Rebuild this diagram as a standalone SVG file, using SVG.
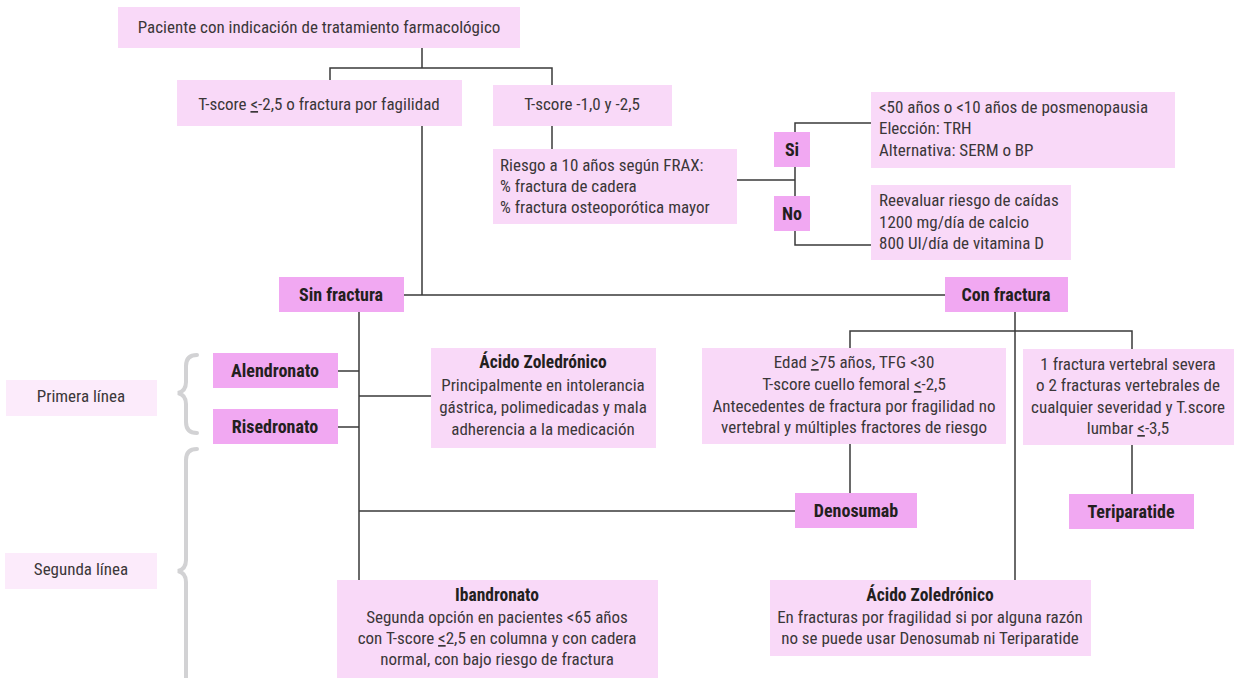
<svg xmlns="http://www.w3.org/2000/svg" width="1234" height="678" viewBox="0 0 1234 678">
<style>
.lt{fill:#f9d9f8}
.dk{fill:#f1a8f2}
.pale{fill:#fcebfb}
text{font-family:"Liberation Sans Narrow","Roboto Condensed","Liberation Sans",Arial,sans-serif;font-size:17px;fill:#3b3739}
.c{text-anchor:middle}
.b{font-weight:bold;fill:#231f20;font-size:18px}
.t{font-weight:bold;fill:#231f20;font-size:17.5px}
.ln{stroke:#3a3a3a;stroke-width:1.5;fill:none}
.br{stroke:#d2d2d4;stroke-width:4;fill:none;stroke-linecap:round}
</style>
<rect width="1234" height="678" fill="#ffffff"/>
<g id="connectors">
<path class="ln" d="M422 48V68M330 80V68H552V85"/>
<path class="ln" d="M552 126V149"/>
<path class="ln" d="M737 180H795M871 123H795V245H871"/>
<path class="ln" d="M422 126V295M404 295H945"/>
<path class="ln" d="M359 312V580M338 371H359M338 427H359M359 396H431M359 511H795"/>
<path class="ln" d="M1015 312V580M850 348V331H1132V349"/>
<path class="ln" d="M850 444V493M1132 445V494"/>
</g>
<g id="braces">
<path class="br" d="M197 355Q186 355 186 366V382Q186 391 178 393Q186 395 186 404V422Q186 433 197 433"/>
<path class="br" d="M197 449Q186 449 186 460V560Q186 569 178 571Q186 573 186 582V678"/>
</g>
<g id="n-paciente"><rect class="lt" x="118" y="7" width="402" height="41"/><text class="c" x="319" y="33">Paciente con indicación de tratamiento farmacológico</text></g>
<g id="n-tscore1"><rect class="lt" x="177" y="80" width="285" height="46"/><text class="c" x="319" y="110">T-score <tspan text-decoration="underline">&lt;</tspan>-2,5 o fractura por fagilidad</text></g>
<g id="n-tscore2"><rect class="lt" x="493" y="85" width="179" height="41"/><text class="c" x="582" y="110">T-score -1,0 y -2,5</text></g>
<g id="n-frax"><rect class="lt" x="493" y="149" width="244" height="75"/><text x="500" y="171">Riesgo a 10 años según FRAX:</text><text x="500" y="192">% fractura de cadera</text><text x="500" y="213">% fractura osteoporótica mayor</text></g>
<g id="n-si"><rect class="dk" x="774" y="132" width="36" height="35"/><text class="c b" x="792" y="156">Si</text></g>
<g id="n-no"><rect class="dk" x="774" y="196" width="36" height="35"/><text class="c b" x="792" y="220">No</text></g>
<g id="n-si-res"><rect class="lt" x="871" y="92" width="304" height="76"/><text x="879" y="113">&lt;50 años o &lt;10 años de posmenopausia</text><text x="879" y="134">Elección: TRH</text><text x="879" y="156">Alternativa: SERM o BP</text></g>
<g id="n-no-res"><rect class="lt" x="871" y="185" width="200" height="75"/><text x="879" y="206">Reevaluar riesgo de caídas</text><text x="879" y="228">1200 mg/día de calcio</text><text x="879" y="249">800 UI/día de vitamina D</text></g>
<g id="n-sin"><rect class="dk" x="279" y="277" width="125" height="35"/><text class="c b" x="341" y="301">Sin fractura</text></g>
<g id="n-con"><rect class="dk" x="945" y="277" width="123" height="35"/><text class="c b" x="1006" y="301">Con fractura</text></g>
<g id="n-primera"><rect class="pale" x="6" y="380" width="151" height="36"/><text class="c" x="81" y="402">Primera línea</text></g>
<g id="n-segunda"><rect class="pale" x="5" y="553" width="152" height="36"/><text class="c" x="81" y="575">Segunda línea</text></g>
<g id="n-alendronato"><rect class="dk" x="213" y="353" width="125" height="35"/><text class="c b" x="275" y="377">Alendronato</text></g>
<g id="n-risedronato"><rect class="dk" x="213" y="409" width="125" height="35"/><text class="c b" x="275" y="433">Risedronato</text></g>
<g id="n-zol1"><rect class="lt" x="431" y="348" width="225" height="100"/><text class="c t" x="543" y="368">Ácido Zoledrónico</text><text class="c" x="543" y="391">Principalmente en intolerancia</text><text class="c" x="543" y="413">gástrica, polimedicadas y mala</text><text class="c" x="543" y="435">adherencia a la medicación</text></g>
<g id="n-edad"><rect class="lt" x="702" y="348" width="304" height="96"/><text class="c" x="854" y="368">Edad <tspan text-decoration="underline">&gt;</tspan>75 años, TFG &lt;30</text><text class="c" x="854" y="390">T-score cuello femoral <tspan text-decoration="underline">&lt;</tspan>-2,5</text><text class="c" x="854" y="412">Antecedentes de fractura por fragilidad no</text><text class="c" x="854" y="433">vertebral y múltiples fractores de riesgo</text></g>
<g id="n-vert"><rect class="lt" x="1023" y="349" width="211" height="96"/><text class="c" x="1128" y="370">1 fractura vertebral severa</text><text class="c" x="1128" y="391">o 2 fracturas vertebrales de</text><text class="c" x="1128" y="413">cualquier severidad y T.score</text><text class="c" x="1128" y="434">lumbar <tspan text-decoration="underline">&lt;</tspan>-3,5</text></g>
<g id="n-denosumab"><rect class="dk" x="795" y="493" width="122" height="35"/><text class="c b" x="856" y="517">Denosumab</text></g>
<g id="n-teriparatide"><rect class="dk" x="1069" y="494" width="125" height="35"/><text class="c b" x="1131" y="518">Teriparatide</text></g>
<g id="n-ibandronato"><rect class="lt" x="337" y="580" width="321" height="98"/><text class="c t" x="497" y="601">Ibandronato</text><text class="c" x="497" y="623">Segunda opción en pacientes &lt;65 años</text><text class="c" x="497" y="644">con T-score <tspan text-decoration="underline">&lt;</tspan>2,5 en columna y con cadera</text><text class="c" x="497" y="665">normal, con bajo riesgo de fractura</text></g>
<g id="n-zol2"><rect class="lt" x="770" y="580" width="321" height="76"/><text class="c t" x="930" y="601">Ácido Zoledrónico</text><text class="c" x="930" y="623">En fracturas por fragilidad si por alguna razón</text><text class="c" x="930" y="644">no se puede usar Denosumab ni Teriparatide</text></g>
</svg>
